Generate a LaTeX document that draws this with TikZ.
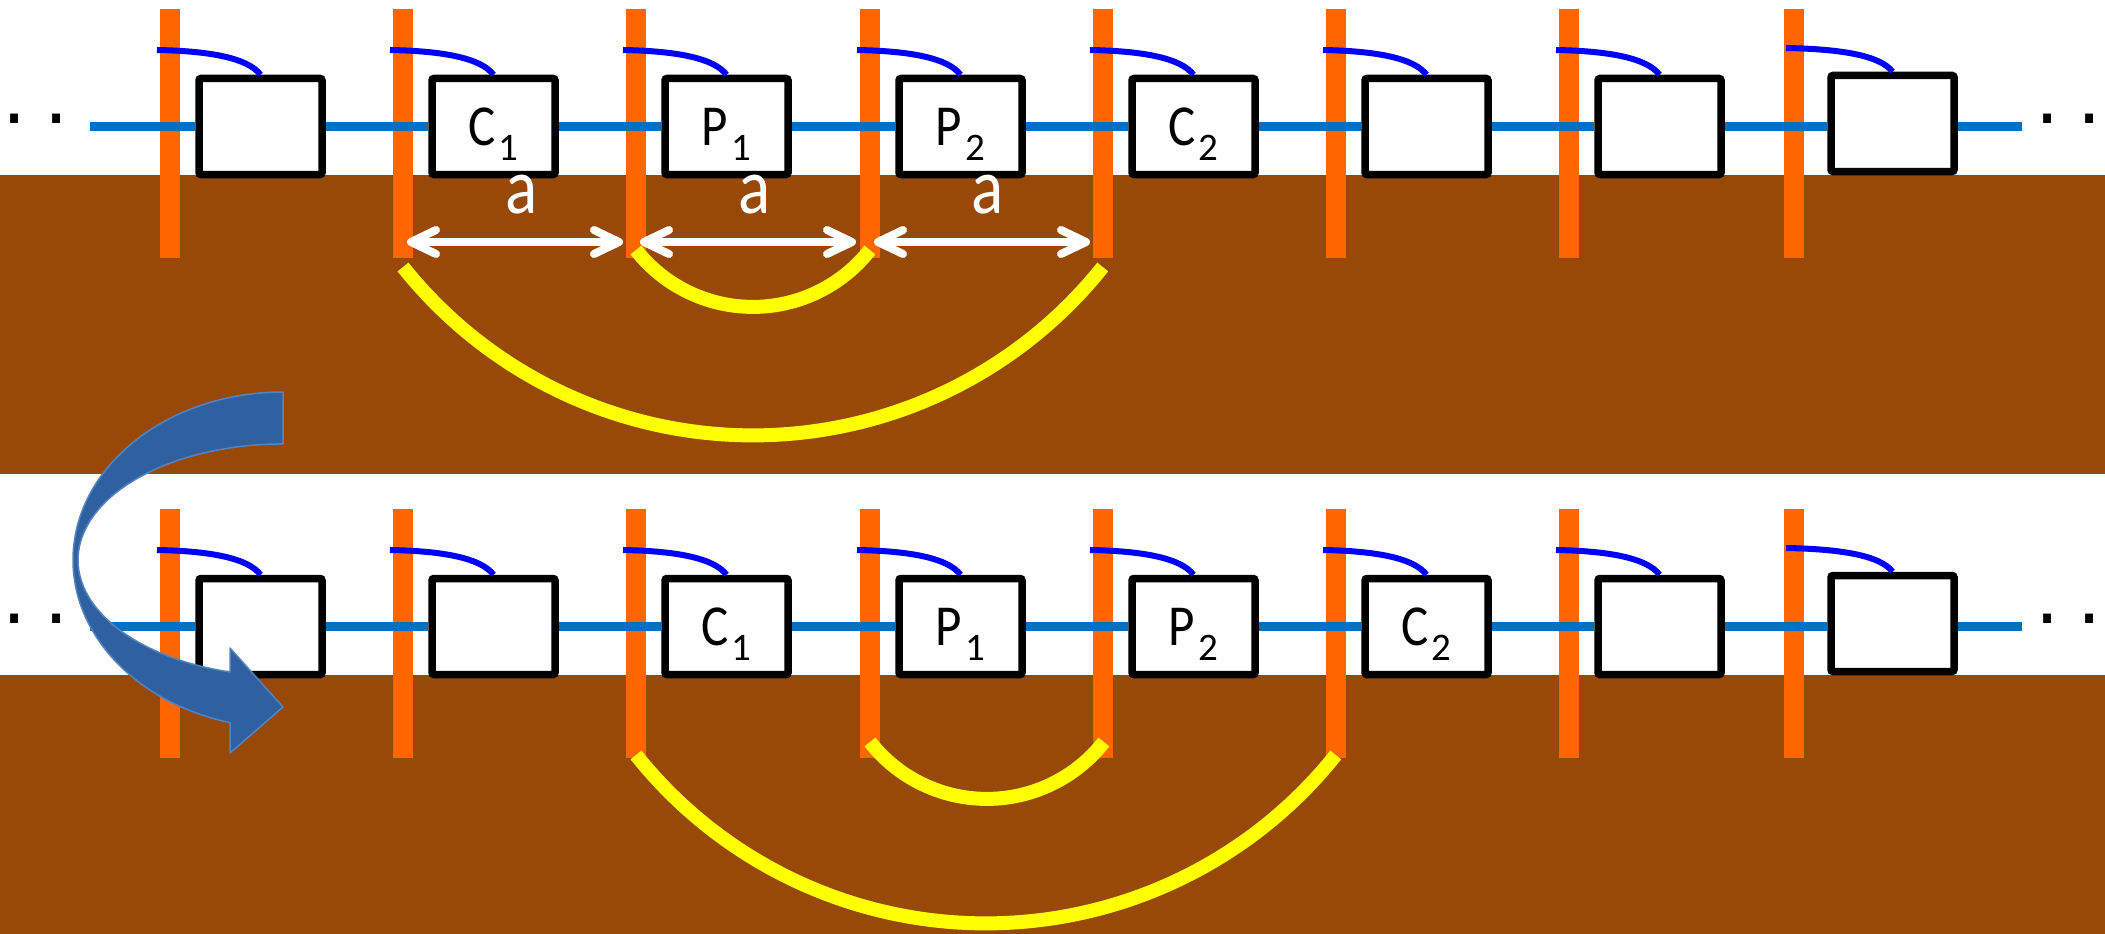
\documentclass[tikz,border=0pt]{standalone}
\usepackage{fontspec}
\setmainfont{Carlito}
\newfontfamily\dotfont{DejaVu Sans}
\usetikzlibrary{arrows.meta}
\definecolor{soil}{RGB}{152,72,7}
\definecolor{polec}{RGB}{255,102,0}
\definecolor{chainc}{RGB}{0,112,192}
\definecolor{hookc}{RGB}{0,0,255}
\definecolor{loopc}{RGB}{255,255,0}
\definecolor{bigarrow}{RGB}{47,97,160}
\definecolor{bigarrowedge}{RGB}{84,132,192}
\newcommand{\cellname}[2]{\scalebox{0.88}[1]{#1}\kern3pt\raisebox{-15pt}{\fontsize{39}{39}\selectfont #2}}
\begin{document}
\begin{tikzpicture}[x=1pt,y=-1pt,
  polebar/.style={fill=polec, draw=none, minimum width=20pt, minimum height=249pt, inner sep=0pt, outer sep=0pt},
  cell/.style={draw=black, fill=white, line width=7.5pt, minimum width=123pt, minimum height=96pt, inner sep=0pt, rounded corners=2pt},
  link/.style={chainc, line width=9pt},
  hookline/.style={hookc, line width=6pt},
  loopline/.style={loopc, line width=14pt},
  span/.style={white, line width=8pt, <->, >={Straight Barb[length=25pt,width=24pt,round]}},
  lbl/.style={font=\fontsize{58}{58}\selectfont, inner sep=0pt, anchor=base},
  alabel/.style={text=white, font=\fontsize{79}{79}\selectfont, inner sep=0pt, anchor=base, text height=37pt, text depth=0pt},
  dotsl/.style={font=\dotfont\fontsize{76}{76}\selectfont, inner sep=0pt, anchor=base}
]
\useasboundingbox (0,0) rectangle (2105,934);
\fill[white] (0,0) rectangle (2105,934);
\fill[soil] (0,175) rectangle (2105,474);
\fill[soil] (0,675) rectangle (2105,934);

% poles
\foreach \i/\x in {1/170,2/403,3/636,4/870,5/1103,6/1336,7/1569,8/1794}{
  \node[polebar] (t\i) at (\x,133.5) {};
  \node[polebar] (u\i) at (\x,633.5) {};
}

% chain free ends
\coordinate (tls) at (90,126);
\coordinate (tle) at (2022,126);
\coordinate (uls) at (90,626);
\coordinate (ule) at (2022,626);

% boxes
\foreach \i/\x in {1/260.5,2/493.5,3/726.5,4/960.5,5/1193.5,6/1426.5,7/1659.5}{
  \node[cell] (b\i) at (\x,126.5) {};
  \node[cell] (c\i) at (\x,626.5) {};
}
\node[cell] (b8) at (1892.5,123.5) {};
\node[cell] (c8) at (1892.5,623.5) {};

% chain links
\draw[link] (tls) -- (b1.west |- tls);
\draw[link] (uls) -- (c1.west |- uls);
\foreach \i [evaluate=\i as \j using int(\i+1)] in {1,...,7}{
  \draw[link] (b\i.east |- tls) -- (b\j.west |- tls);
  \draw[link] (c\i.east |- uls) -- (c\j.west |- uls);
}
\draw[link] (b8.east |- tle) -- (tle);
\draw[link] (c8.east |- ule) -- (ule);

% hooks
\foreach \i/\x in {1/170,2/403,3/636,4/870,5/1103,6/1336,7/1569}{
  \coordinate (th\i) at (\x-13,50);
  \coordinate (uh\i) at (\x-13,550);
  \draw[hookline] (th\i) .. controls (\x+40,51) and (\x+78,58) .. (b\i.north);
  \draw[hookline] (uh\i) .. controls (\x+40,551) and (\x+78,558) .. (c\i.north);
}
\coordinate (th8) at (1786,48);
\coordinate (uh8) at (1786,548);
\draw[hookline] (th8) .. controls (1839,49) and (1880,55) .. (b8.north);
\draw[hookline] (uh8) .. controls (1839,549) and (1880,555) .. (c8.north);

% labels, top row
\node[lbl] (lt2) at ([yshift=-18.5pt]b2.center) {\cellname{C}{1}};
\node[lbl] (lt3) at ([yshift=-18.5pt]b3.center) {\cellname{P}{1}};
\node[lbl] (lt4) at ([yshift=-18.5pt]b4.center) {\cellname{P}{2}};
\node[lbl] (lt5) at ([yshift=-18.5pt]b5.center) {\cellname{C}{2}};
% labels, bottom row
\node[lbl] (lu3) at ([yshift=-18.5pt]c3.center) {\cellname{C}{1}};
\node[lbl] (lu4) at ([yshift=-18.5pt]c4.center) {\cellname{P}{1}};
\node[lbl] (lu5) at ([yshift=-18.5pt]c5.center) {\cellname{P}{2}};
\node[lbl] (lu6) at ([yshift=-18.5pt]c6.center) {\cellname{C}{2}};

% dots
\node[dotsl] (dtl) at (36,123) {.\kern18pt.};
\node[dotsl] (dtr) at (2069,123) {.\kern18pt.};
\node[dotsl] (dul) at (36,623) {.\kern18pt.};
\node[dotsl] (dur) at (2069,623) {.\kern18pt.};

% yellow loops
\coordinate (ya) at (636,250);
\coordinate (yb) at (403,267);
\coordinate (yc) at (870,742);
\coordinate (yd) at (636,755);
\draw[loopline] (ya) arc[start angle=141.9, end angle=38.1, radius=148.6];
\draw[loopline] (yb) arc[start angle=141.4, end angle=38.6, radius=447.7];
\draw[loopline] (yc) arc[start angle=141.9, end angle=38.1, radius=148.6];
\draw[loopline] (yd) arc[start angle=141.4, end angle=38.6, radius=447.7];

% spacing arrows
\coordinate (s1a) at (407,242); \coordinate (s1b) at (623,242);
\coordinate (s2a) at (640,242); \coordinate (s2b) at (856,242);
\coordinate (s3a) at (874,242); \coordinate (s3b) at (1090,242);
\draw[span] (s1a) -- (s1b);
\draw[span] (s2a) -- (s2b);
\draw[span] (s3a) -- (s3b);
\node[alabel] (a1) at (522,213) {\scalebox{0.85}[1]{a}};
\node[alabel] (a2) at (755,213) {\scalebox{0.85}[1]{a}};
\node[alabel] (a3) at (988,213) {\scalebox{0.85}[1]{a}};

% big curved arrow
\filldraw[fill=bigarrow, draw=bigarrowedge, line width=1.5pt, line join=round]
  (283,392) arc[start angle=270, end angle=104.6, x radius=210, y radius=168]
  -- (230,753) -- (283,707) -- (230,648) -- (230,672)
  arc[start angle=105, end angle=270, x radius=205, y radius=116] -- cycle;
\end{tikzpicture}
\end{document}
